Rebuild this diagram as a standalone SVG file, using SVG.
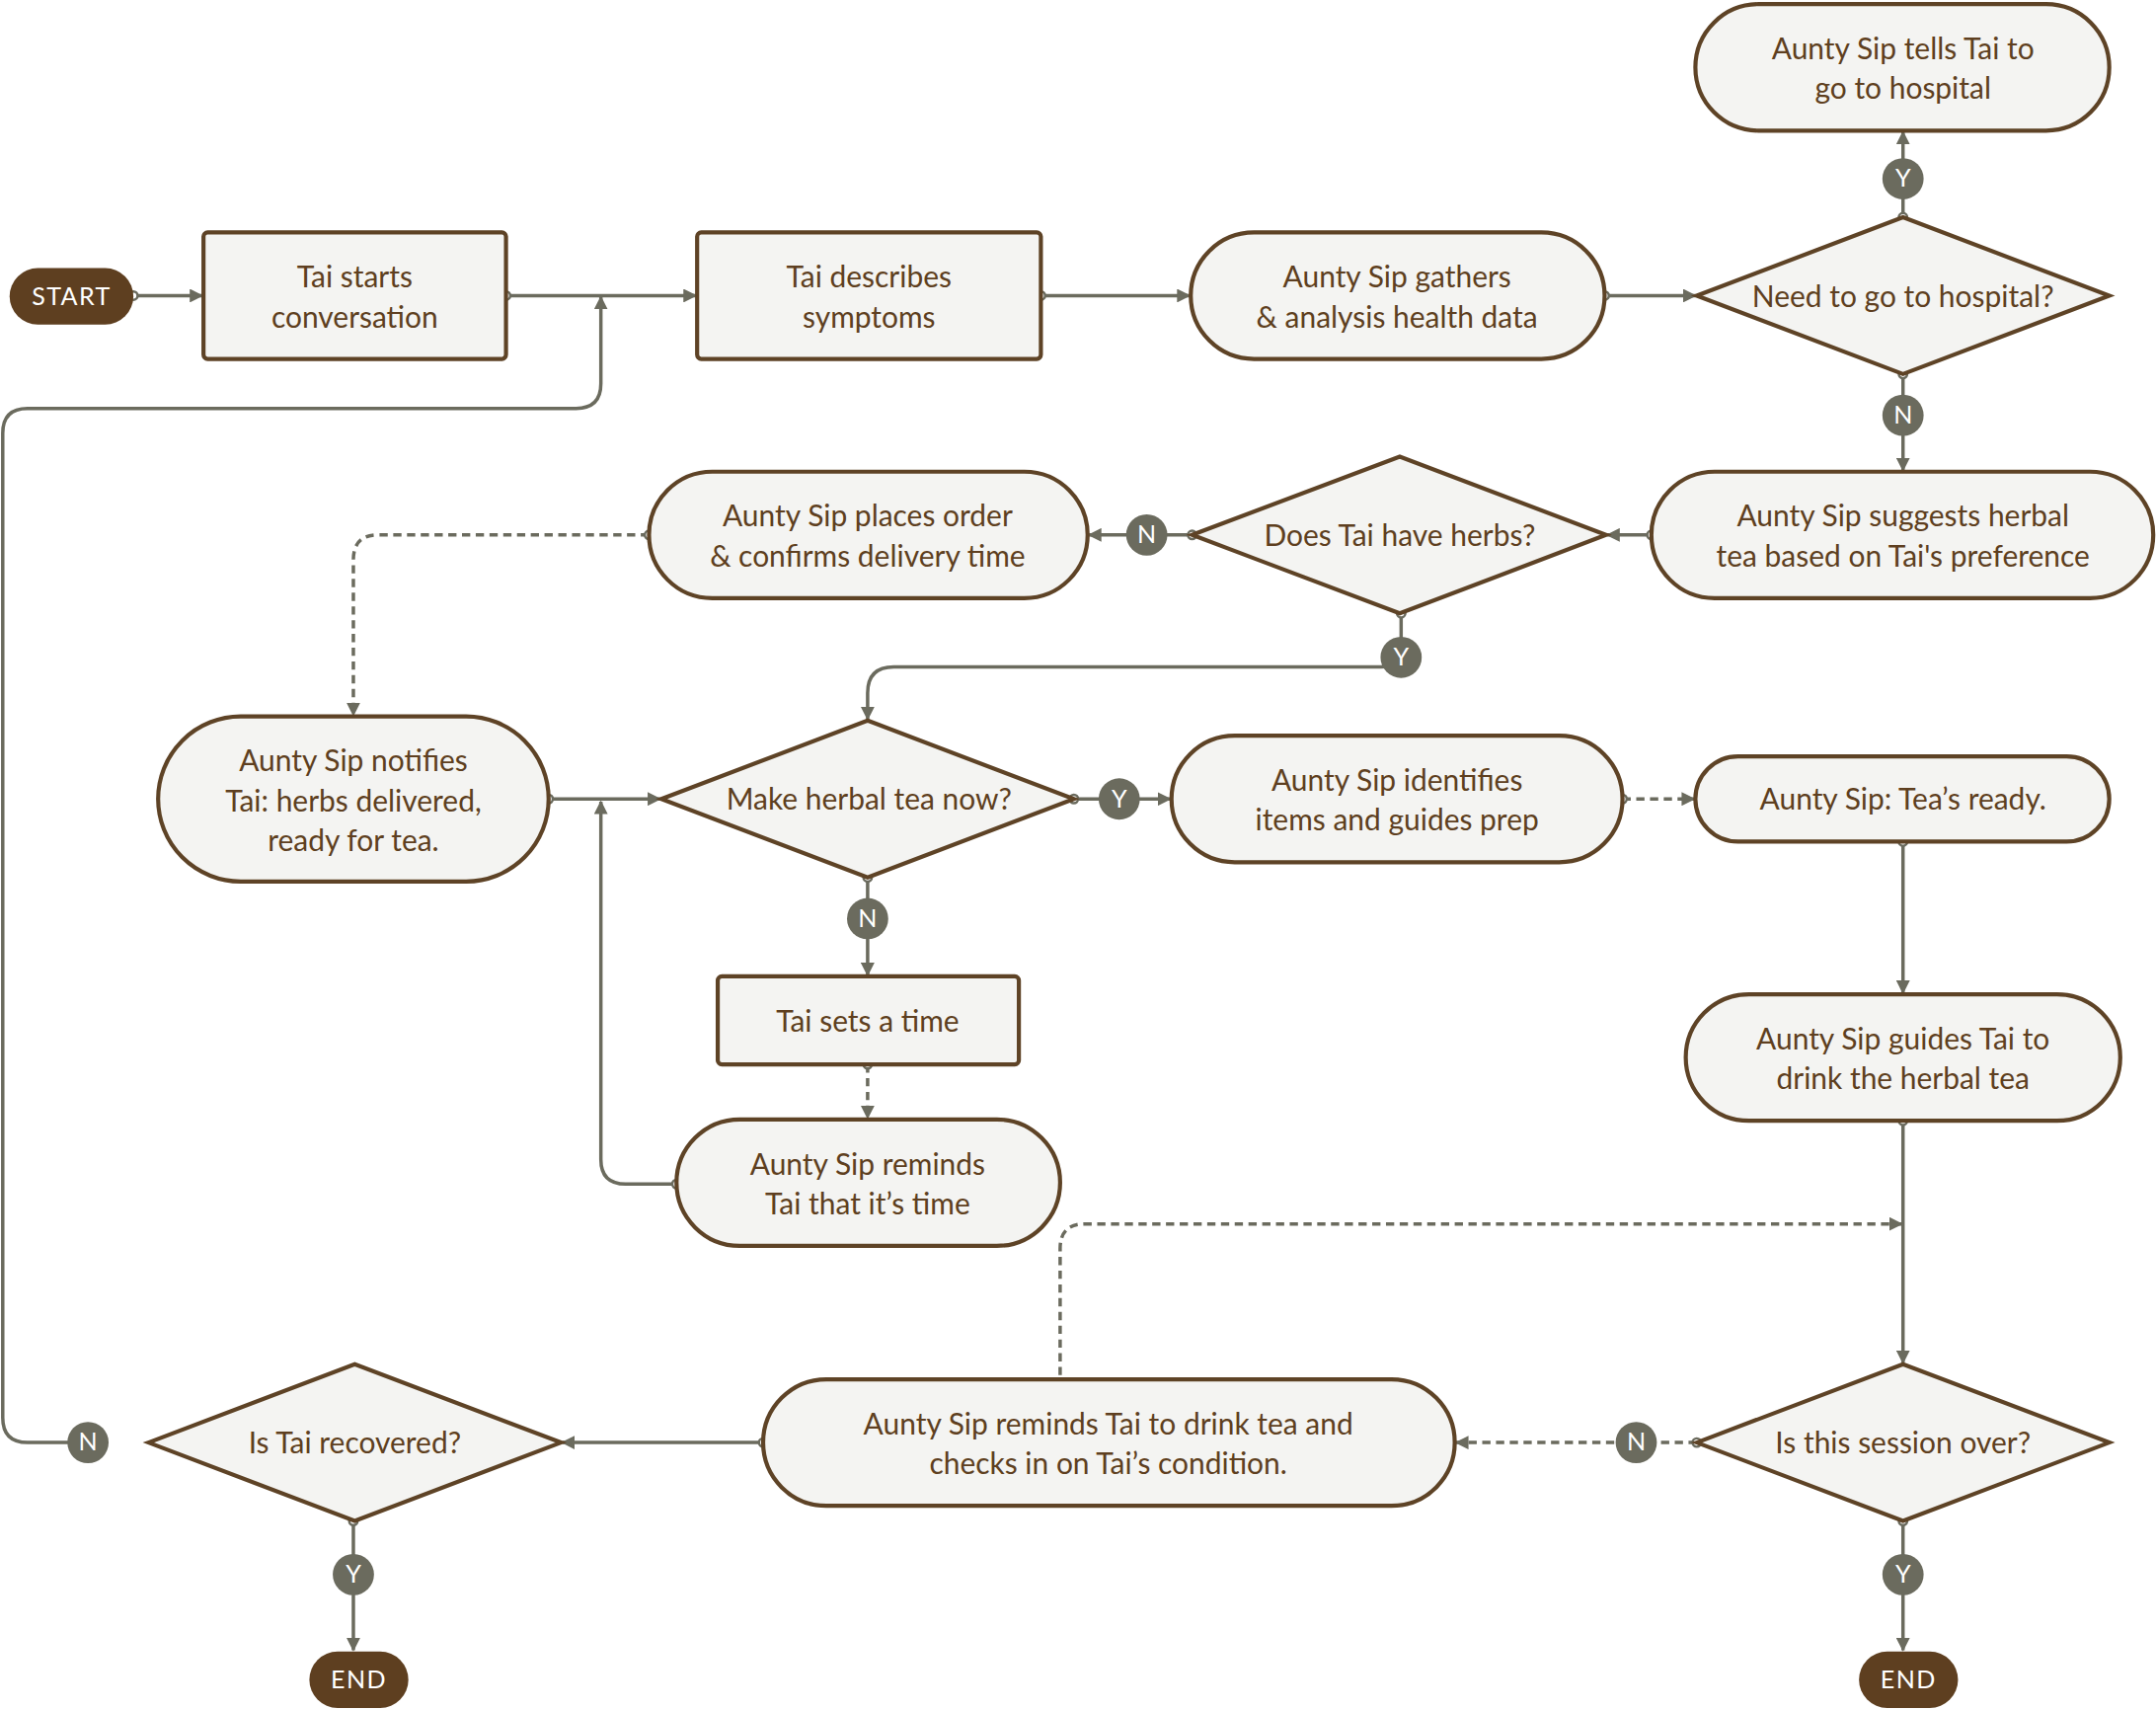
<svg xmlns="http://www.w3.org/2000/svg" width="2184" height="1732" viewBox="0 0 2184 1732">
<style>
.n{fill:#f4f4f2;stroke:#5e4326;stroke-width:3}
.t{font-family:Lato,"Liberation Sans",sans-serif;font-size:21.5px;fill:#5e3f20;text-anchor:middle}
.c{fill:none;stroke:#6b6b5e;stroke-width:2.5;marker-end:url(#a);marker-start:url(#o)}
.d{stroke-dasharray:6 4}
.lb{fill:#6b6b5e}
.lt{font-family:Lato,"Liberation Sans",sans-serif;font-size:18px;fill:#fff;text-anchor:middle}
.se{fill:#5e3f20}
.st{font-family:Lato,"Liberation Sans",sans-serif;font-size:18px;fill:#fff;text-anchor:middle;letter-spacing:1px}
</style>
<defs>
<marker id="a" viewBox="0 0 10 10" refX="9" refY="5" markerWidth="4" markerHeight="4" orient="auto"><path d="M0,0L10,5L0,10z" fill="#6b6b5e"/></marker>
<marker id="o" viewBox="0 0 10 10" refX="5" refY="5" markerWidth="3.5" markerHeight="3.5"><circle cx="5" cy="5" r="3.5" fill="#fff" stroke="#6b6b5e" stroke-width="2"/></marker>
</defs>
<rect width="2184" height="1732" fill="#fff"/>
<g transform="scale(1.39286)">
<g id="connectors">
<path class="c" d="M97,215H147"/>
<path class="c" d="M368,215H506"/>
<path class="c" d="M64,1049H20Q2,1049 2,1031V315Q2,297 20,297H419Q437,297 437,279V216"/>
<path class="c" d="M757,215H865"/>
<path class="c" d="M1167,215H1233"/>
<path class="c" d="M1384,158V96"/>
<path class="c" d="M1384,272V342"/>
<path class="c" d="M1201,389H1169"/>
<path class="c" d="M867,389H792"/>
<path class="c d" d="M472,389H275Q257,389 257,407V520"/>
<path class="c" d="M1019,446V470Q1019,485 1004,485H650Q631,485 631,504V523"/>
<path class="c" d="M399,581H480"/>
<path class="c" d="M781,581H851"/>
<path class="c d" d="M1180,581H1232"/>
<path class="c" d="M1384,612V722"/>
<path class="c" d="M631,638V709"/>
<path class="c d" d="M631,774V813"/>
<path class="c" d="M492,861H455Q437,861 437,843V583"/>
<path class="c" d="M1384,815V991"/>
<path class="c d" d="M771,1010V908Q771,890 789,890H1383"/>
<path class="c d" d="M1234,1049H1059"/>
<path class="c" d="M555,1049H409"/>
<path class="c" d="M257,1106V1200"/>
<path class="c" d="M1384,1106V1200"/>
</g>
<g id="labels">
<circle class="lb" cx="1384" cy="130" r="15"/><text class="lt" x="1384" y="136">Y</text>
<circle class="lb" cx="1384" cy="302" r="15"/><text class="lt" x="1384" y="308">N</text>
<circle class="lb" cx="834" cy="389" r="15"/><text class="lt" x="834" y="395">N</text>
<circle class="lb" cx="1019" cy="478" r="15"/><text class="lt" x="1019" y="484">Y</text>
<circle class="lb" cx="814" cy="581" r="15"/><text class="lt" x="814" y="587">Y</text>
<circle class="lb" cx="631" cy="668" r="15"/><text class="lt" x="631" y="674">N</text>
<circle class="lb" cx="1190" cy="1049" r="15"/><text class="lt" x="1190" y="1055">N</text>
<circle class="lb" cx="64" cy="1049" r="15"/><text class="lt" x="64" y="1055">N</text>
<circle class="lb" cx="257" cy="1145" r="15"/><text class="lt" x="257" y="1151">Y</text>
<circle class="lb" cx="1384" cy="1145" r="15"/><text class="lt" x="1384" y="1151">Y</text>
</g>
<g id="start"><rect class="se" x="7" y="195" width="90" height="41" rx="20.5"/><text class="st" x="52" y="222">START</text></g>
<g id="end1"><rect class="se" x="225" y="1201" width="72" height="41" rx="20.5"/><text class="st" x="261" y="1228">END</text></g>
<g id="end2"><rect class="se" x="1352" y="1201" width="72" height="41" rx="20.5"/><text class="st" x="1388" y="1228">END</text></g>
<g id="n1"><rect class="n" x="148" y="169" width="220" height="92" rx="3"/><text class="t" x="258" y="209">Tai starts</text><text class="t" x="258" y="238">conversation</text></g>
<g id="n2"><rect class="n" x="507" y="169" width="250" height="92" rx="3"/><text class="t" x="632" y="209">Tai describes</text><text class="t" x="632" y="238">symptoms</text></g>
<g id="n3"><rect class="n" x="866" y="169" width="301" height="92" rx="46"/><text class="t" x="1016" y="209">Aunty Sip gathers</text><text class="t" x="1016" y="238">&amp; analysis health data</text></g>
<g id="d1"><path class="n" d="M1234,215L1384,158L1534,215L1384,272z"/><text class="t" x="1384" y="223">Need to go to hospital?</text></g>
<g id="n4"><rect class="n" x="1233" y="3" width="301" height="92" rx="46"/><text class="t" x="1384" y="43">Aunty Sip tells Tai to</text><text class="t" x="1384" y="72">go to hospital</text></g>
<g id="n5"><rect class="n" x="1201" y="343" width="365" height="92" rx="46"/><text class="t" x="1384" y="383">Aunty Sip suggests herbal</text><text class="t" x="1384" y="412">tea based on Tai's preference</text></g>
<g id="d2"><path class="n" d="M867,389L1018,332L1168,389L1018,446z"/><text class="t" x="1018" y="397">Does Tai have herbs?</text></g>
<g id="n6"><rect class="n" x="472" y="343" width="319" height="92" rx="46"/><text class="t" x="631" y="383">Aunty Sip places order</text><text class="t" x="631" y="412">&amp; confirms delivery time</text></g>
<g id="n7"><rect class="n" x="115" y="521" width="284" height="120" rx="60"/><text class="t" x="257" y="561">Aunty Sip notifies</text><text class="t" x="257" y="590">Tai: herbs delivered,</text><text class="t" x="257" y="619">ready for tea.</text></g>
<g id="d3"><path class="n" d="M481,581L631,524L781,581L631,638z"/><text class="t" x="632" y="589">Make herbal tea now?</text></g>
<g id="n8"><rect class="n" x="852" y="535" width="328" height="92" rx="46"/><text class="t" x="1016" y="575">Aunty Sip identifies</text><text class="t" x="1016" y="604">items and guides prep</text></g>
<g id="n9"><rect class="n" x="1233" y="550" width="301" height="62" rx="31"/><text class="t" x="1384" y="589">Aunty Sip: Tea’s ready.</text></g>
<g id="n10"><rect class="n" x="522" y="710" width="219" height="64" rx="3"/><text class="t" x="631" y="750">Tai sets a time</text></g>
<g id="n11"><rect class="n" x="492" y="814" width="279" height="92" rx="46"/><text class="t" x="631" y="854">Aunty Sip reminds</text><text class="t" x="631" y="883">Tai that it’s time</text></g>
<g id="n12"><rect class="n" x="1226" y="723" width="316" height="92" rx="46"/><text class="t" x="1384" y="763">Aunty Sip guides Tai to</text><text class="t" x="1384" y="792">drink the herbal tea</text></g>
<g id="d4"><path class="n" d="M1234,1049L1384,992L1534,1049L1384,1106z"/><text class="t" x="1384" y="1057">Is this session over?</text></g>
<g id="n13"><rect class="n" x="555" y="1003" width="503" height="92" rx="46"/><text class="t" x="806" y="1043">Aunty Sip reminds Tai to drink tea and</text><text class="t" x="806" y="1072">checks in on Tai’s condition.</text></g>
<g id="d5"><path class="n" d="M108,1049L258,992L408,1049L258,1106z"/><text class="t" x="258" y="1057">Is Tai recovered?</text></g>
</g>
</svg>
